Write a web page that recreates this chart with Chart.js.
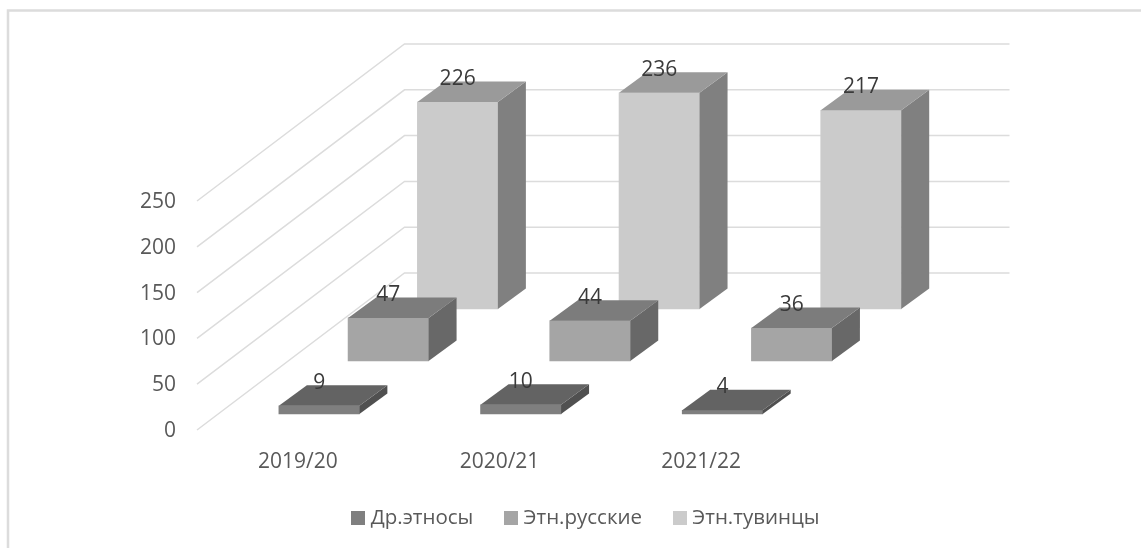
<!DOCTYPE html>
<html>
<head>
<meta charset="utf-8">
<style>html,body{margin:0;padding:0;background:#fff}canvas{display:block}</style>
<script src="https://cdn.jsdelivr.net/npm/chart.js@4"></script>
</head>
<body>
<canvas id="c" width="1141" height="548"></canvas>
<script>
const categories = ['2019/20', '2020/21', '2021/22'];
const seriesNames = ['Др.этносы', 'Этн.русские', 'Этн.тувинцы'];
const otherValues = [9, 10, 4];
const russianValues = [47, 44, 36];
const tuvanValues = [226, 236, 217];

const FONT = '"Open Sans", sans-serif';
const SIZE = 21;
const LEGEND_SIZE = 20.5;
const frontColors = ['#7f7f7f', '#a5a5a5', '#cbcbcb'];
const topColors = ['#636363', '#7c7c7c', '#9a9a9a'];
const sideColors = ['#505050', '#686868', '#808080'];
const rowShift = [[21.3, -16], [90.5, -69], [159.8, -121]];
const barDepth = [28, -20.5];
const wall = [207.5, -157];

function swatch(color) {
  const s = document.createElement('canvas');
  s.width = 14; s.height = 14;
  const g = s.getContext('2d');
  g.fillStyle = color; g.fillRect(0, 0, 14, 14);
  return s;
}
const swatches = frontColors.map(swatch);

function poly(ctx, color, pts) {
  ctx.fillStyle = color;
  ctx.beginPath();
  pts.forEach((p, i) => i ? ctx.lineTo(p[0], p[1]) : ctx.moveTo(p[0], p[1]));
  ctx.closePath();
  ctx.fill();
}

const scene = {
  id: 'scene',
  beforeDraw(chart) {
    const ctx = chart.ctx;
    ctx.save();
    ctx.strokeStyle = '#dcdcdc';
    ctx.lineWidth = 2.5;
    ctx.beginPath();
    ctx.moveTo(8, 548); ctx.lineTo(8, 10.5); ctx.lineTo(1141, 10.5);
    ctx.stroke();
    ctx.restore();
  },
  afterLayout(chart) {
    const l = chart.legend;
    l.left += 187; l.right += 187;
    l.top = 472;
  },
  beforeDatasetsDraw(chart) {
    const ctx = chart.ctx, y = chart.scales.y, a = chart.chartArea;
    ctx.save();
    ctx.strokeStyle = '#dcdcdc';
    ctx.lineWidth = 1.5;
    y.ticks.forEach(t => {
      const py = y.getPixelForValue(t.value);
      ctx.beginPath();
      ctx.moveTo(a.left, py);
      ctx.lineTo(a.left + wall[0], py + wall[1]);
      ctx.lineTo(a.right + wall[0], py + wall[1]);
      ctx.stroke();
    });
    ctx.restore();
  },
  beforeDatasetDraw(chart, args) {
    const s = rowShift[args.index];
    chart.ctx.save();
    chart.ctx.translate(s[0], s[1]);
  },
  afterDatasetDraw(chart, args) {
    const ctx = chart.ctx, i = args.index;
    const [dx, dy] = barDepth;
    args.meta.data.forEach(b => {
      const l = b.x - b.width / 2, r = b.x + b.width / 2;
      poly(ctx, sideColors[i], [[r, b.y], [r + dx, b.y + dy], [r + dx, b.base + dy], [r, b.base]]);
      poly(ctx, topColors[i], [[l, b.y], [l + dx, b.y + dy], [r + dx, b.y + dy], [r, b.y]]);
    });
    ctx.restore();
  },
  afterDatasetsDraw(chart) {
    const ctx = chart.ctx;
    ctx.save();
    ctx.fillStyle = '#3a3a3a';
    ctx.font = SIZE + 'px ' + FONT;
    ctx.textAlign = 'center';
    ctx.textBaseline = 'middle';
    chart.data.datasets.forEach((ds, i) => {
      chart.getDatasetMeta(i).data.forEach((b, j) => {
        ctx.fillText(String(ds.data[j]), b.x + rowShift[i][0], b.y + rowShift[i][1] - 23);
      });
    });
    ctx.restore();
  }
};

new Chart(document.getElementById('c'), {
  type: 'bar',
  data: {
    labels: categories,
    datasets: [otherValues, russianValues, tuvanValues].map((data, i) => ({
      label: seriesNames[i],
      data,
      backgroundColor: frontColors[i],
      borderWidth: 0,
      clip: false,
      barThickness: 80.5,
      grouped: false
    }))
  },
  options: {
    responsive: false,
    animation: false,
    layout: { padding: { top: 201, right: 339, left: 0, bottom: 0 } },
    scales: {
      x: {
        grid: { display: false, drawTicks: false },
        border: { display: false },
        ticks: { color: '#595959', font: { family: FONT, size: SIZE }, padding: 19, maxRotation: 0, autoSkip: false },
        afterFit(s) { s.height = 88; }
      },
      y: {
        min: 0, max: 250,
        grid: { display: false, drawTicks: false },
        border: { display: false },
        ticks: { stepSize: 50, color: '#595959', font: { family: FONT, size: SIZE }, padding: 21, labelOffset: 1 },
        afterFit(s) { s.width = 197; }
      }
    },
    plugins: {
      tooltip: { enabled: false },
      legend: {
        position: 'bottom',
        maxHeight: 30,
        labels: {
          usePointStyle: true,
          boxWidth: 4,
          boxHeight: 14,
          padding: 36,
          color: '#595959',
          font: { family: FONT, size: LEGEND_SIZE },
          generateLabels(chart) {
            return seriesNames.map((text, i) => ({
              text, datasetIndex: i, pointStyle: swatches[i], fontColor: '#595959',
              fillStyle: frontColors[i], strokeStyle: frontColors[i], lineWidth: 0
            }));
          }
        }
      }
    }
  },
  plugins: [scene]
});
</script>
</body>
</html>
